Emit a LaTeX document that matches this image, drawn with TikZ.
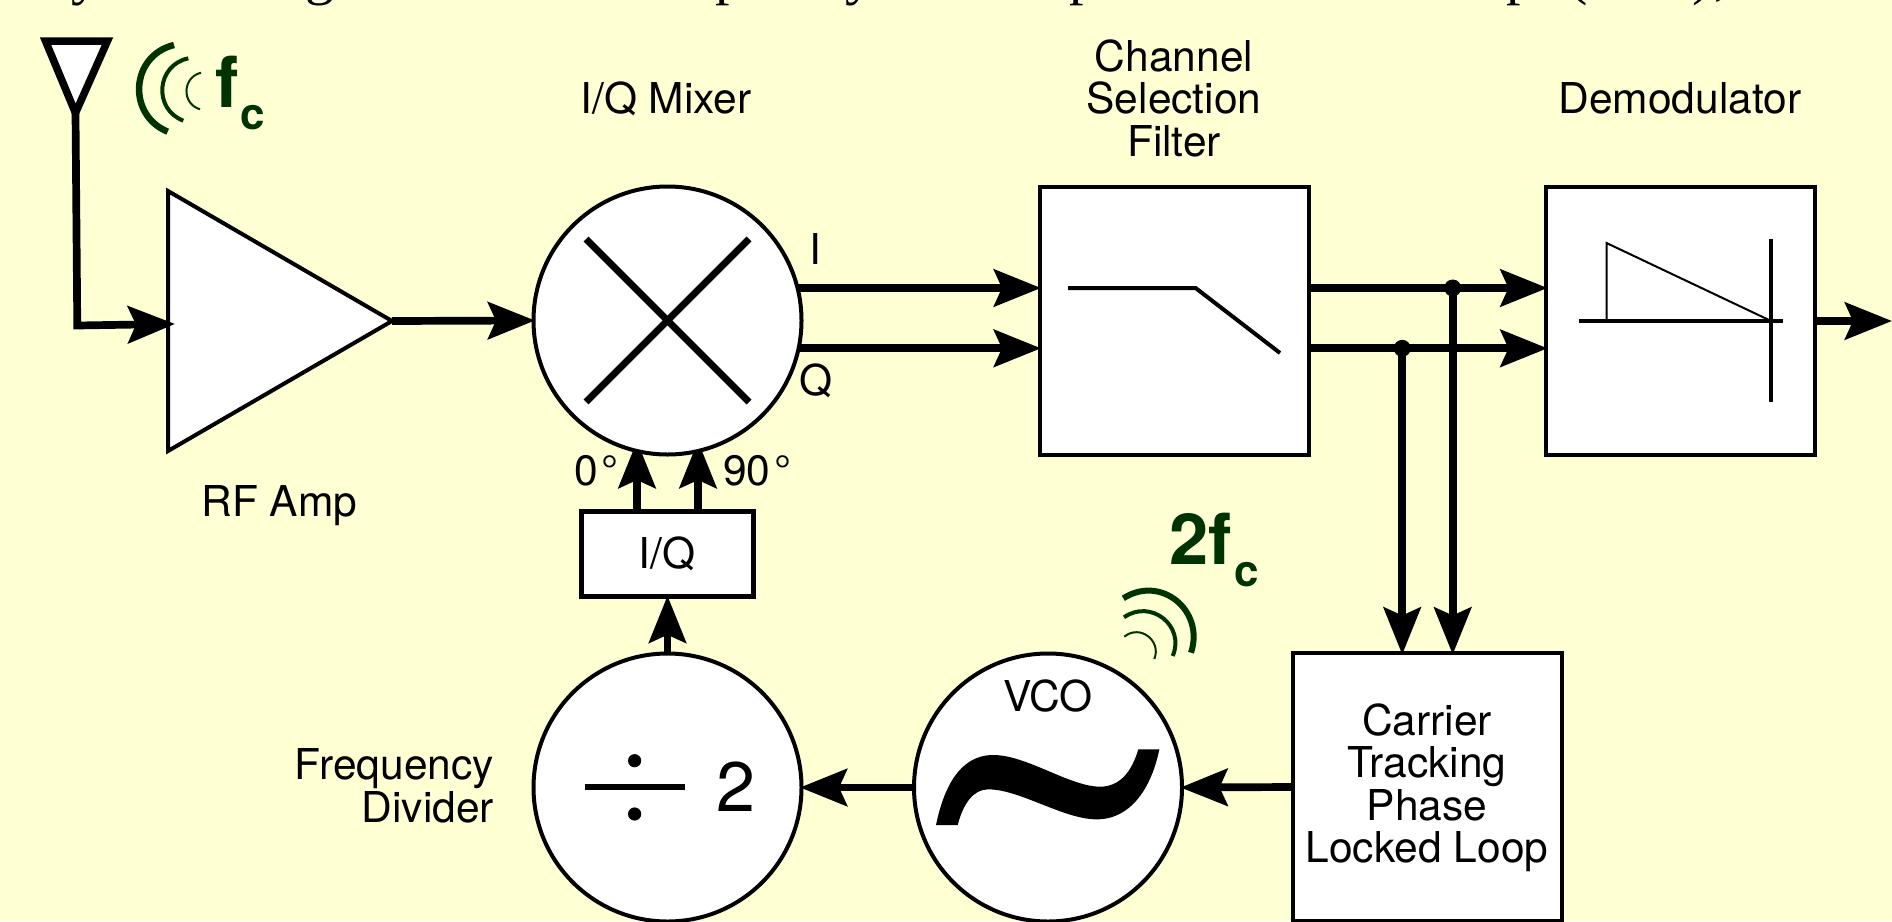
\documentclass[tikz,border=0pt]{standalone}
\usepackage{fontspec}
\setmainfont{TeX Gyre Heros}
\newfontfamily\topfont{Liberation Serif}
\usetikzlibrary{arrows.meta}
\pgfdeclarelayer{bgl}
\pgfdeclarelayer{connl}
\pgfsetlayers{bgl,connl,main}
\definecolor{paper}{HTML}{FFFFD4}
\definecolor{wave}{HTML}{003300}
\tikzset{
  lbl/.style={inner sep=0pt,outer sep=0pt,font=\fontsize{42.5}{42.5}\selectfont,align=center},
  bigtxt/.style={inner sep=0pt,outer sep=0pt,text=wave,font=\fontsize{70.5}{70.5}\selectfont\bfseries},
  toptxt/.style={inner sep=0pt,outer sep=0pt,anchor=base,font=\fontsize{58}{58}\selectfont\topfont},
  conn/.style={line width=7.7pt,shorten >=-3.5pt,-{Stealth[length=47pt,width=37pt,inset=8pt]}},
  disc/.style={circle,draw=black,fill=white,line width=4pt,minimum size=268pt,inner sep=0pt},
  blockbox/.style={rectangle,draw=black,fill=white,line width=4pt,minimum width=269pt,minimum height=268pt,inner sep=0pt},
  junct/.style={circle,fill=black,inner sep=0pt,minimum size=17pt},
  wv/.style={draw=wave}
}
\begin{document}
\begin{tikzpicture}[x=1pt,y=-1pt]
\useasboundingbox (0,0) rectangle (1892,921);
\begin{pgfonlayer}{bgl}
\fill[paper] (0,0) rectangle (1892,921);
\end{pgfonlayer}

% clipped line of text above the diagram
\node[toptxt] (t1) at (86,-7) {y};
\node[toptxt] (t2) at (320,-7) {g};
\node[toptxt] (t3) at (730,-7) {p};
\node[toptxt] (t4) at (860,-7) {y};
\node[toptxt] (t5) at (1084,-7) {p};
\node[toptxt] (t6) at (1521,-7) {p};
\node[toptxt] (t7) at (1578,-7) {(};
\node[toptxt] (t8) at (1702,-7) {)};
\node[toptxt] (t9) at (1722,-7) {,};

% blocks
\node[disc] (mixer) at (667.5,320.5) {};
\node[blockbox] (filter) at (1174,321) {};
\node[blockbox] (demod) at (1680.5,321) {};
\node[blockbox] (pll) at (1427.5,787) {};
\node[disc] (vco) at (1048,787.5) {};
\node[disc] (divider) at (667.5,787.5) {};
\node[rectangle,draw=black,fill=white,line width=5pt,minimum width=172pt,minimum height=85.5pt,inner sep=0pt] (iq) at (667.5,554) {};

% amplifier and antenna
\filldraw[fill=white,draw=black,line width=4pt,line join=miter] (168,191) coordinate (ampnw) -- (392,321) coordinate (ampout) -- (168,451) coordinate (ampsw) -- cycle;
\coordinate (ampin) at (171.5,324);
\filldraw[fill=white,draw=black,line width=7.5pt,line join=miter] (45.5,41) -- (107.5,41) -- (75.5,113) coordinate (ant) -- cycle;

% connectors
\coordinate (iy) at (0,288);
\coordinate (qy) at (0,348.3);
\coordinate (jI) at (1452.7,288);
\coordinate (jQ) at (1402.2,348.3);
\coordinate (in0) at (637,444.5);
\coordinate (in90) at (698,444.5);
\coordinate (outend) at (1888.5,321);
\coordinate (antcorner) at (77.3,325.5);
\begin{pgfonlayer}{connl}
\draw[conn] (ampout) -- (mixer.west);
\draw[conn] (mixer.center |- iy) -- (filter.west |- iy);
\draw[conn] (mixer.center |- qy) -- (filter.west |- qy);
\draw[conn] (filter.center |- iy) -- (demod.west |- iy);
\draw[conn] (filter.center |- qy) -- (demod.west |- qy);
\draw[conn] (jI) -- (jI |- pll.north);
\draw[conn] (jQ) -- (jQ |- pll.north);
\draw[conn] (demod.center) -- (outend);
\draw[conn] (pll.west) -- (vco.east);
\draw[conn] (vco.west) -- (divider.east);
\draw[conn] (divider.north) -- (iq.south);
\draw[conn] (in0 |- iq.north) -- (in0);
\draw[conn] (in90 |- iq.north) -- (in90);
\end{pgfonlayer}
\draw[conn,line join=miter] (ant) -- (antcorner) -- (ampin);
\node[junct] (dotI) at (jI) {};
\node[junct] (dotQ) at (jQ) {};

% mixer cross
\draw[line width=7pt] (586,239) -- (749,402);
\draw[line width=7pt] (749,239) -- (586,402);

% filter symbol
\draw[line width=4pt,line join=miter] (1068,288) -- (1195.6,288) -- (1280,353);

% demodulator symbol
\draw[line width=4pt] (1579,321) -- (1783,321);
\draw[line width=4pt] (1771,239) -- (1771,402);
\draw[line width=2pt,line join=miter] (1606.5,321) -- (1606.5,243) -- (1769,320);

% divide sign
\draw[line width=5.5pt] (584.6,787) -- (685,787);
\fill (634.6,760.7) circle (6.6);
\fill (634.6,814) circle (6.6);

% tilde
\begin{scope}[shift={(880,640)},x=0.33333pt,y=-0.33333pt]
\fill (168,555) .. controls (190,450) and (235,345) .. (340,345)
  .. controls (440,345) and (570,440) .. (660,440)
  .. controls (720,440) and (755,395) .. (775,328) -- (838,328)
  .. controls (815,440) and (755,538) .. (650,538)
  .. controls (550,538) and (420,448) .. (325,448)
  .. controls (280,448) and (250,490) .. (233,555) -- cycle;
\end{scope}

% radio waves
\draw[wv,line width=6.5pt] (174,45) .. controls (130.7,55.5) and (126.6,114.7) .. (167.7,131.7);
\draw[wv,line width=4pt] (188.3,58.3) .. controls (156.3,65.1) and (152.8,109) .. (183.3,120.7);
\draw[wv,line width=2pt] (201,72.7) .. controls (182.2,77.3) and (181.4,103.7) .. (200,109.3);
\draw[wv,line width=6pt] (1123.3,598.3) .. controls (1160.9,574.2) and (1205,610.6) .. (1191,652.7);
\draw[wv,line width=4pt] (1124,617.3) .. controls (1150.8,598.5) and (1185.5,625.9) .. (1172.7,656);
\draw[wv,line width=2pt] (1124.3,636.7) .. controls (1139.7,623.9) and (1161.8,640.5) .. (1154.3,659);

% labels
\node[bigtxt,anchor=base west] (fc) at (215.5,107.3) {f\kern1.5pt\raisebox{-21.7pt}{\fontsize{44}{44}\selectfont c}};
\node[bigtxt,anchor=base west] (tfc) at (1169.5,564.5) {2f\kern2.5pt\raisebox{-22.3pt}{\fontsize{44}{44}\selectfont c}};
\node[lbl,anchor=base] (lmix) at (666,113.5) {I/Q Mixer};
\node[lbl] (lfilt) at (1174,98) {Channel\\Selection\\Filter};
\node[lbl,anchor=base] (ldem) at (1680,113.5) {Demodulator};
\node[lbl,anchor=base] (lamp) at (279.5,516) {RF Amp};
\node[lbl,anchor=base] (lI) at (815,264) {I};
\node[lbl,anchor=base] (lQ) at (815.7,395) {Q};
\node[lbl,anchor=base west] (l0) at (574,485) {0$\,$°};
\node[lbl,anchor=base west] (l90) at (723,485) {90$\,$°};
\node[lbl,anchor=base] (liq) at (667,568) {I/Q};
\node[lbl,anchor=base] (lvco) at (1048,711) {VCO};
\node[inner sep=0pt,outer sep=0pt,font=\fontsize{70}{70}\selectfont,anchor=base] (ltwo) at (736,811.7) {2};
\node[lbl,align=right,anchor=east] (ldiv) at (494,786) {Frequency\\Divider};
\node[lbl] (lpll) at (1427,787.5) {Carrier\\Tracking\\Phase\\Locked Loop};
\end{tikzpicture}
\end{document}
